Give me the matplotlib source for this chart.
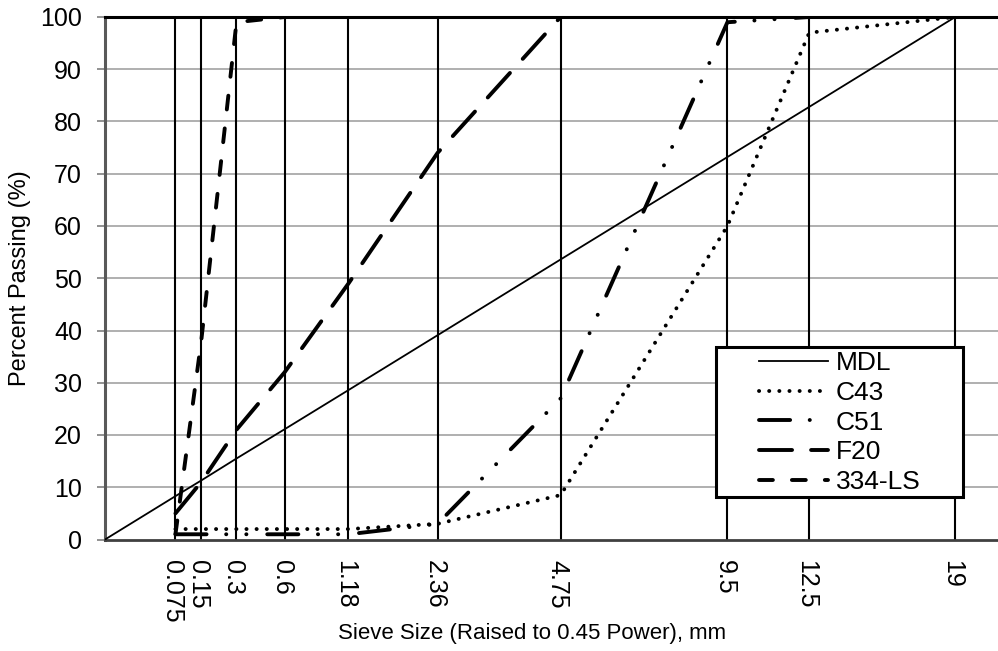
import numpy as np
import matplotlib
matplotlib.use('Agg')
import matplotlib.pyplot as plt
import matplotlib.patches as patches
from matplotlib.transforms import ScaledTranslation

plt.rcParams['font.family'] = ['Liberation Sans', 'DejaVu Sans']
plt.rcParams['lines.scale_dashes'] = False

sieve = [0.075, 0.15, 0.3, 0.6, 1.18, 2.36, 4.75, 9.5, 12.5, 19]
sieve_labels = ['0.075', '0.15', '0.3', '0.6', '1.18', '2.36', '4.75', '9.5', '12.5', '19']

mdl_sieve = [0, 0.075, 0.15, 0.3, 0.6, 1.18, 2.36, 4.75, 9.5, 12.5, 19]
mdl = [0, 8.3, 11.3, 15.5, 21.1, 28.6, 39.1, 53.6, 73.2, 82.8, 100]
c43 = [2, 2, 2, 2, 2, 3, 8.5, 60, 97, 100]
c51 = [1, 1, 1, 1, 1, 3, 27, 99, 100, 100]
f20 = [5, 11, 21, 32, 49, 74, 100, 100, 100, 100]
ls334 = [1, 38, 99, 100, 100, 100, 100, 100, 100, 100]

fs_tick = 18
fs_leg = 19

def fwd(x):
  x = np.asarray(x, dtype=float)
  return np.sign(x) * np.abs(x) ** 0.45

def inv(x):
  x = np.asarray(x, dtype=float)
  return np.sign(x) * np.abs(x) ** (1 / 0.45)

fig = plt.figure(figsize=(9.98, 6.51), dpi=100)
ax = fig.add_axes([105 / 998, 111.5 / 651, 904 / 998, 522.5 / 651])
ax.set_xscale('function', functions=(fwd, inv))
ax.set_xlim(0, 4.0 ** (1 / 0.45))
ax.set_ylim(0, 100)

# grid
for y in range(10, 100, 10):
  ax.axhline(y, color='#9a9a9a', lw=1.1, zorder=1)
for s in sieve:
  ax.axvline(s, color='black', lw=1.5, zorder=2)

ax.plot(mdl_sieve, mdl, color='black', lw=1.3, label='MDL', zorder=3)
ax.plot(sieve, c43, color='black', lw=2.8, linestyle=(0, (0.1, 7.2)),
        dash_capstyle='round', label='C43', zorder=3)
ax.plot(sieve, c51, color='black', lw=2.8, linestyle=(0, (22.4, 14.1, 0.1, 14.4, 0.1, 15)),
        dash_capstyle='round', label='C51', zorder=3)
ax.plot(sieve, f20, color='black', lw=2.8, linestyle=(0, (23.8, 13.7)),
        dash_capstyle='round', label='F20', zorder=3)
ax.plot(sieve, ls334, color='black', lw=2.8, linestyle=(0, (10, 13.7)),
        dash_capstyle='round', label='334-LS', zorder=3)

ax.set_yticks(range(0, 101, 10))
ax.tick_params(axis='y', direction='out', length=5.5, width=1.2, color='#7f7f7f',
               pad=11, labelsize=fs_tick)
ax.set_xticks(sieve)
ax.set_xticklabels(sieve_labels, rotation=270, fontsize=fs_tick)
ax.xaxis.set_minor_locator(matplotlib.ticker.NullLocator())
ax.tick_params(axis='x', length=0, pad=14.5)
for lab in ax.get_xticklabels():
  lab.set_transform(lab.get_transform() + ScaledTranslation(-3 / 100, 0, fig.dpi_scale_trans))

ax.spines['right'].set_visible(False)
ax.spines['top'].set_color('black')
ax.spines['top'].set_linewidth(2.2)
ax.spines['left'].set_color('#595959')
ax.spines['left'].set_linewidth(2.2)
ax.spines['bottom'].set_color('#404040')
ax.spines['bottom'].set_linewidth(2.0)

fig.text(20 / 998, 1 - 278 / 651, 'Percent Passing (%)', rotation=90,
         ha='center', va='center', fontsize=17)
fig.text(532 / 998, 1 - 633 / 651, 'Sieve Size (Raised to 0.45 Power), mm',
         ha='center', va='center', fontsize=16)

# legend box
box = patches.Rectangle((716 / 998, 1 - 497 / 651), 247 / 998, 150 / 651,
                        transform=fig.transFigure, facecolor='white',
                        edgecolor='black', lw=2.2, zorder=4)
fig.add_artist(box)
h, l = ax.get_legend_handles_labels()
leg = fig.legend(h, l, loc='upper left', bbox_to_anchor=(759 / 998, 1 - 351 / 651),
                 bbox_transform=fig.transFigure, frameon=False, fontsize=fs_leg,
                 handlelength=2.6, handletextpad=0.3, labelspacing=0.22,
                 borderpad=0, borderaxespad=0)
leg.set_zorder(5)

fig.savefig('out.png', dpi=100)
